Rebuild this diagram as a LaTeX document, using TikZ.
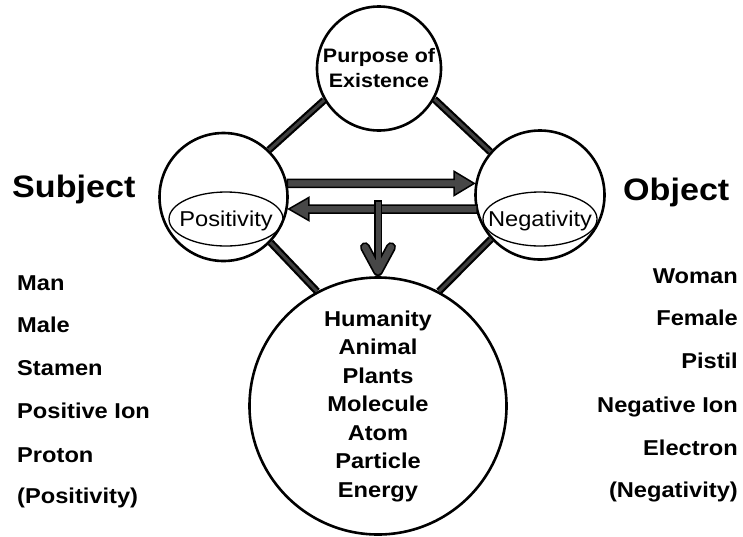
\documentclass[tikz,border=0pt]{standalone}
\usepackage{fontspec}
\setmainfont{Liberation Sans}[FakeStretch=1.1]
\usetikzlibrary{shapes.geometric,calc}
\begin{document}
\begin{tikzpicture}[x=1pt,y=-1pt,
  circ/.style={circle,draw,line width=2.6pt,inner sep=0pt,align=center,
    font=\bfseries\fontsize{21}{25}\selectfont},
  ell/.style={ellipse,draw,line width=1.3pt,minimum width=114pt,minimum height=54pt,
    inner sep=0pt,font=\fontsize{21.5}{25}\selectfont,text depth=0pt},
  conn/.style={line width=2.2pt,double=black!75,double distance=3pt},
  arrowbody/.style={draw=black,line width=1.5pt,fill=black!72,line join=miter},
  big/.style={font=\bfseries\fontsize{31}{36}\selectfont,inner sep=0pt},
  item/.style={font=\bfseries\fontsize{21.5}{25}\selectfont,inner sep=0pt}]
\path[use as bounding box,fill=white] (0,0) rectangle (743,536);

% circles
\node[circ,minimum size=124pt,font=\bfseries\fontsize{19.5}{25}\selectfont] (T) at (379,68.5) {Purpose of\\Existence};
\node[circ,minimum size=128pt] (L) at (223.5,197) {};
\node[circ,minimum size=129pt] (R) at (540,195) {};
\node[circ,minimum size=257pt,font=\bfseries\fontsize{21.5}{28.5}\selectfont] (B) at (378,406)
  {Humanity\\Animal\\Plants\\Molecule\\Atom\\Particle\\Energy};

% inner ellipses
\node[ell] (P) at (226,219) {\makebox[0pt]{Positivity}};
\node[ell] (N) at (540,219) {\makebox[0pt]{Negativity}};

% connectors
\draw[conn] (T.210) -- (L.46);
\draw[conn] (T.-29) -- (R.139);
\draw[conn] (L.-44) -- (B.118);
\draw[conn] (R.-138) -- (B.62);

% upper arrow: L -> R
\coordinate (a1) at (L.12);
\coordinate (a2) at (R.west |- a1);
\draw[arrowbody] ($(a1)+(0,-4)$) -- ($(a2)+(-20,-4)$) -- ($(a2)+(-20,-12)$) -- (a2)
  -- ($(a2)+(-20,12)$) -- ($(a2)+(-20,4)$) -- ($(a1)+(0,4)$) -- cycle;

% lower arrow: R -> L
\coordinate (b1) at ($(R.west)+(3,14)$);
\coordinate (b2) at (L.east |- b1);
\draw[arrowbody] ($(b1)+(0,-4)$) -- ($(b2)+(20,-4)$) -- ($(b2)+(20,-11.5)$) -- (b2)
  -- ($(b2)+(20,11.5)$) -- ($(b2)+(20,4)$) -- ($(b1)+(0,4)$) -- cycle;

% down arrow into B
\coordinate (c2) at ($(B.north)+(0,-5)$);
\coordinate (c1) at ($(B.north |- b1)+(0,-9)$);
\draw[line width=8.5pt,black] (c1) -- (c2);
\draw[line width=10pt,black,line cap=round,line join=round]
  ($(c2)+(-13,-24)$) -- (c2) -- ($(c2)+(13,-24)$);
\draw[line width=5pt,black!72] ($(c1)+(0,1.75)$) -- (c2);
\draw[line width=6.5pt,black!72,line cap=round,line join=round]
  ($(c2)+(-13,-24)$) -- (c2) -- ($(c2)+(13,-24)$);

% side titles
\node[big,anchor=base west] (subj) at (12,197) {Subject};
\node[big,anchor=base west] (obj) at (623,200) {Object};

% lists
\foreach \t/\y [count=\i] in {Man/290,Male/332,Stamen/375,{Positive Ion}/418,Proton/462,{(Positivity)}/503}
  \node[item,anchor=base west] (s\i) at (17,\y) {\t};
\foreach \t/\y [count=\i] in {Woman/283,Female/325,Pistil/368,{Negative Ion}/412,Electron/455,{(Negativity)}/497}
  \node[item,anchor=base east] (o\i) at (738,\y) {\t};
\end{tikzpicture}
\end{document}
